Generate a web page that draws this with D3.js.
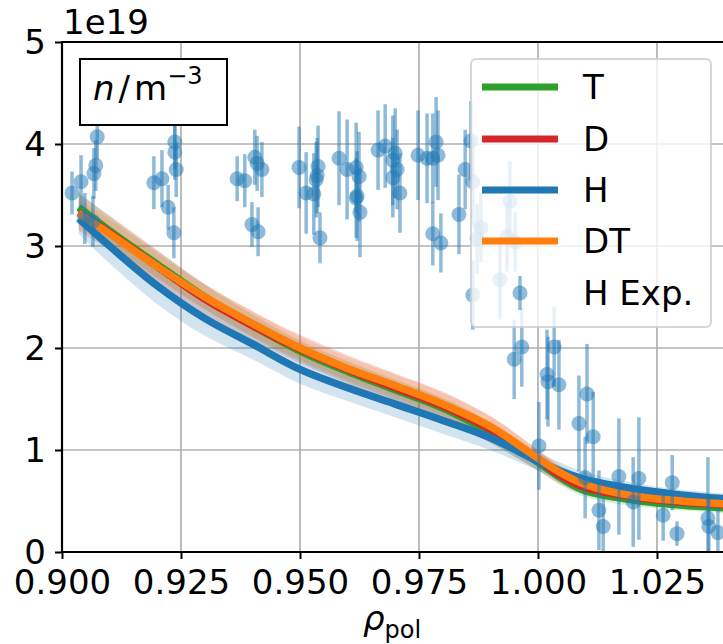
<!DOCTYPE html>
<html><head><meta charset="utf-8">
<script src="https://cdn.jsdelivr.net/npm/d3@7"></script>
<style>
html,body{margin:0;padding:0;background:#fff;}
svg{display:block;font-family:"DejaVu Sans",sans-serif;}
</style></head>
<body>
<svg id="chart" width="723" height="644"></svg>
<script>
// ---- data (density in units of 1e19 m^-3) ----
const rhoModel = [0.9035,0.91,0.92,0.93,0.94,0.95,0.96,0.97,0.98,0.99,1.0,1.005,1.01,1.02,1.03,1.04];
const nT  = [3.38,3.15,2.82,2.50,2.22,1.97,1.77,1.59,1.41,1.17,0.88,0.72,0.60,0.51,0.46,0.43];
const nD  = [3.33,3.13,2.80,2.48,2.22,1.99,1.79,1.61,1.43,1.20,0.90,0.74,0.63,0.54,0.49,0.46];
const nH  = [3.27,3.00,2.61,2.29,2.04,1.79,1.61,1.45,1.29,1.12,0.89,0.79,0.71,0.62,0.56,0.52];
const nDT = [3.32,3.12,2.80,2.50,2.24,2.00,1.80,1.63,1.45,1.23,0.92,0.77,0.66,0.55,0.50,0.47];
const errT  = [0.15,0.14,0.13,0.12,0.11,0.10,0.10,0.10,0.10,0.10,0.08,0.07,0.06,0.06,0.05,0.05];
const errD  = [0.18,0.17,0.16,0.15,0.14,0.14,0.14,0.14,0.14,0.13,0.10,0.08,0.07,0.06,0.06,0.06];
const errH  = [0.15,0.17,0.18,0.17,0.15,0.14,0.13,0.13,0.13,0.12,0.09,0.08,0.07,0.06,0.05,0.05];
const errDT = [0.14,0.14,0.13,0.12,0.12,0.11,0.11,0.11,0.11,0.10,0.08,0.07,0.06,0.05,0.05,0.05];

const expRho = [0.9021,0.9040,0.9074,0.9071,0.9067,0.9048,0.9065,0.9193,0.9210,0.9223,0.9237,0.9237,0.9240,0.9235,
 0.9368,0.9384,0.9405,0.9410,0.9420,0.9399,0.9412,0.9498,0.9513,0.9529,0.9538,0.9536,0.9534,0.9542,
 0.9582,0.9599,0.9618,0.9624,0.9620,0.9618,0.9626,0.9664,0.9679,0.9700,0.9695,0.9704,0.9695,0.9710,
 0.9748,0.9767,0.9779,0.9786,0.9790,0.9834,0.9779,0.9796,0.9847,0.9859,0.9863,0.9941,0.9880,0.9872,
 0.9935,0.9952,0.9920,0.9863,0.9966,0.9950,1.0019,1.0021,1.0034,1.0044,1.0103,1.0086,1.0116,1.0002,
 1.0128,1.0137,1.0170,1.0200,1.0212,1.0263,1.0282,1.0292,1.0357,1.0359,1.0378,1.0099];
const expN = [3.52,3.63,4.07,3.79,3.71,3.27,3.24,3.62,3.66,3.38,4.02,3.92,3.75,3.13,
 3.66,3.64,3.87,3.81,3.75,3.21,3.14,3.77,3.52,3.51,3.78,3.69,3.65,3.08,
 3.86,3.75,3.77,3.68,3.49,3.47,3.33,3.94,3.98,3.91,3.84,3.75,3.67,3.52,
 3.89,3.86,3.86,4.02,3.89,3.31,3.12,3.03,3.75,4.03,3.63,3.44,3.18,3.07,
 3.09,3.04,2.67,2.52,2.01,1.89,1.74,1.67,2.01,1.64,1.55,1.26,1.13,1.04,
 0.41,0.25,0.74,0.49,0.72,0.36,0.68,0.18,0.33,0.25,0.19,0.73];
const expErr = [0.21,0.26,0.22,0.25,0.25,0.25,0.25,0.26,0.28,0.22,0.27,0.27,0.27,0.25,
 0.22,0.26,0.27,0.27,0.27,0.22,0.24,0.40,0.40,0.40,0.40,0.37,0.37,0.25,
 0.46,0.49,0.44,0.44,0.44,0.39,0.44,0.39,0.41,0.44,0.44,0.39,0.39,0.39,
 0.44,0.44,0.44,0.44,0.44,0.39,0.31,0.29,0.39,0.39,0.44,0.39,0.34,0.34,
 0.34,0.29,0.39,0.34,0.39,0.39,0.44,0.44,0.39,0.44,0.49,0.47,0.44,0.43,
 0.39,0.29,0.57,0.44,0.60,0.25,0.27,0.12,0.60,0.30,0.25,0.40];

const xTicks = [0.900,0.925,0.950,0.975,1.000,1.025];
const yTicks = [0,1,2,3,4,5];
const seriesNames = ["T","D","H","DT"];
const seriesColors = ["#2ca02c","#d62728","#1f77b4","#ff7f0e"];
const seriesValues = [nT,nD,nH,nDT];
const seriesErrs = [errT,errD,errH,errDT];

// ---- layout ----
const L=62, T=42, R=723, B=552;
const svg = d3.select("#chart");
const x = d3.scaleLinear().domain([0.9,1.03887]).range([L,R]);
const y = d3.scaleLinear().domain([0,5]).range([B,T]);
const curve = d3.curveCatmullRom.alpha(0.5);

svg.append("defs").append("clipPath").attr("id","clip")
  .append("rect").attr("x",L).attr("y",T).attr("width",R-L+5).attr("height",B-T);

// grid
const grid = svg.append("g");
grid.selectAll(".gx").data(xTicks).join("line")
  .attr("x1",d=>x(d)).attr("x2",d=>x(d)).attr("y1",T).attr("y2",B)
  .attr("stroke","#b0b0b0").attr("stroke-width",1.7);
grid.selectAll(".gy").data(yTicks).join("line")
  .attr("x1",L).attr("x2",R+5).attr("y1",d=>y(d)).attr("y2",d=>y(d))
  .attr("stroke","#b0b0b0").attr("stroke-width",1.7);

const plot = svg.append("g").attr("clip-path","url(#clip)");

// bands
seriesValues.forEach((vals,i)=>{
  const errs = seriesErrs[i];
  const area = d3.area().x((d,j)=>x(rhoModel[j]))
    .y0((d,j)=>y(vals[j]-errs[j])).y1((d,j)=>y(vals[j]+errs[j]))
    .curve(curve);
  plot.append("path").datum(vals).attr("d",area)
    .attr("fill",seriesColors[i]).attr("fill-opacity",0.2).attr("stroke","none");
});
// lines
seriesValues.forEach((vals,i)=>{
  const line = d3.line().x((d,j)=>x(rhoModel[j])).y(d=>y(d)).curve(curve);
  plot.append("path").datum(vals).attr("d",line)
    .attr("fill","none").attr("stroke",seriesColors[i]).attr("stroke-width",7.5)
    .attr("stroke-linejoin","round");
});
// experimental points
const expIdx = d3.range(expRho.length);
plot.selectAll(".eb").data(expIdx).join("line")
  .attr("x1",i=>x(expRho[i])).attr("x2",i=>x(expRho[i]))
  .attr("y1",i=>y(expN[i]-expErr[i])).attr("y2",i=>y(expN[i]+expErr[i]))
  .attr("stroke","#1f77b4").attr("stroke-opacity",0.5).attr("stroke-width",3.5);
plot.selectAll(".pt").data(expIdx).join("circle")
  .attr("cx",i=>x(expRho[i])).attr("cy",i=>y(expN[i])).attr("r",7.5)
  .attr("fill","#1f77b4").attr("fill-opacity",0.5);

// spines
svg.append("line").attr("x1",L).attr("x2",L).attr("y1",T-1).attr("y2",B+1).attr("stroke","#000").attr("stroke-width",2.2);
svg.append("line").attr("x1",L-1).attr("x2",R+5).attr("y1",B).attr("y2",B).attr("stroke","#000").attr("stroke-width",2.2);
svg.append("line").attr("x1",L-1).attr("x2",R+5).attr("y1",T).attr("y2",T).attr("stroke","#000").attr("stroke-width",2.2);

// axes
const xAxis = d3.axisBottom(x).tickValues(xTicks).tickFormat(d3.format(".3f")).tickSize(7).tickPadding(11);
const yAxis = d3.axisLeft(y).tickValues(yTicks).tickFormat(d3.format("d")).tickSize(7).tickPadding(9);
const gx = svg.append("g").attr("transform",`translate(0,${B})`).call(xAxis);
const gy = svg.append("g").attr("transform",`translate(${L},0)`).call(yAxis);
[gx,gy].forEach(g=>{
  g.select(".domain").remove();
  g.selectAll(".tick line").attr("stroke","#000").attr("stroke-width",2);
  g.selectAll(".tick text").attr("fill","#000").attr("font-size",34).attr("font-family","DejaVu Sans");
});
gy.selectAll(".tick text").attr("dy","0.34em");

// offset text
svg.append("text").attr("x",63).attr("y",34).attr("font-size",34).text("1e19");

// x label
const xl = svg.append("text").attr("x",392).attr("y",630).attr("text-anchor","middle").attr("font-size",34);
xl.append("tspan").attr("font-style","italic").text("ρ");
xl.append("tspan").attr("font-size",24).attr("dy",8).text("pol");

// text box
svg.append("rect").attr("x",80).attr("y",59).attr("width",147).attr("height",66)
  .attr("fill","#fff").attr("stroke","#000").attr("stroke-width",2);
const tb = svg.append("text").attr("x",93).attr("y",100).attr("font-size",34);
tb.append("tspan").attr("font-style","italic").text("n");
tb.append("tspan").attr("dx",4).text("/");
tb.append("tspan").attr("dx",4).text("m");
tb.append("tspan").attr("font-size",24).attr("dy",-16).text("−3");

// legend
const lg = svg.append("g");
lg.append("rect").attr("x",471).attr("y",59).attr("width",240).attr("height",268).attr("rx",5)
  .attr("fill","#fff").attr("fill-opacity",0.8).attr("stroke","#ccc").attr("stroke-opacity",0.8).attr("stroke-width",2);
const legendNames = seriesNames.concat(["H Exp."]);
const rowY = [87,139,190,241,293];
legendNames.forEach((nm,i)=>{
  if(i<4){
    lg.append("line").attr("x1",482).attr("x2",558).attr("y1",rowY[i]).attr("y2",rowY[i])
      .attr("stroke",seriesColors[i]).attr("stroke-width",7);
  } else {
    lg.append("line").attr("x1",520).attr("x2",520).attr("y1",rowY[i]-17).attr("y2",rowY[i]+17)
      .attr("stroke","#1f77b4").attr("stroke-opacity",0.5).attr("stroke-width",3.5);
    lg.append("circle").attr("cx",520).attr("cy",rowY[i]).attr("r",7.5)
      .attr("fill","#1f77b4").attr("fill-opacity",0.5);
  }
  lg.append("text").attr("x",583).attr("y",rowY[i]+12).attr("font-size",34).text(nm);
});
</script>
</body></html>
